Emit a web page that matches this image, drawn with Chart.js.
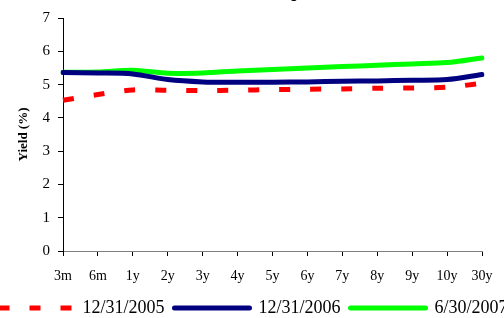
<!DOCTYPE html>
<html>
<head>
<meta charset="utf-8">
<script src="https://cdn.jsdelivr.net/npm/chart.js@4"></script>
<style>
html,body{margin:0;padding:0;background:#fff;overflow:hidden;}
#wrap{position:relative;width:504px;height:318px;overflow:hidden;background:#fff;}
#c{position:absolute;left:-17px;top:-22px;}
</style>
</head>
<body>
<div id="wrap"><canvas id="c" width="540" height="349"></canvas></div>
<script>
const categories = ['3m','6m','1y','2y','3y','4y','5y','6y','7y','8y','9y','10y','30y'];
const yield2005 = [4.53, 4.70, 4.84, 4.83, 4.82, 4.83, 4.85, 4.86, 4.87, 4.89, 4.90, 4.92, 5.04];
const yield2006 = [5.36, 5.35, 5.32, 5.15, 5.08, 5.07, 5.07, 5.08, 5.10, 5.11, 5.13, 5.15, 5.30];
const yield2007 = [5.37, 5.38, 5.43, 5.34, 5.35, 5.41, 5.45, 5.50, 5.54, 5.58, 5.62, 5.66, 5.80];
const seriesLabels = ['12/31/2005', '12/31/2006', '6/30/2007'];
const yTicks = [0, 1, 2, 3, 4, 5, 6, 7];
const chartTitle = 'Yield Curve Comparison';

const serif = "'Liberation Serif', 'Times New Roman', serif";

new Chart(document.getElementById('c'), {
  type: 'line',
  data: {
    labels: categories,
    datasets: [
      {label: seriesLabels[0], data: yield2005, borderColor: '#FF0000', backgroundColor: '#FF0000',
       borderWidth: 5, borderDash: [11, 20], borderCapStyle: 'butt', pointRadius: 0, tension: 0.3, fill: false},
      {label: seriesLabels[1], data: yield2006, borderColor: '#000080', backgroundColor: '#000080',
       borderWidth: 5, borderCapStyle: 'round', borderJoinStyle: 'round', pointRadius: 0, tension: 0.3, fill: false},
      {label: seriesLabels[2], data: yield2007, borderColor: '#00FF00', backgroundColor: '#00FF00',
       borderWidth: 5, borderCapStyle: 'round', borderJoinStyle: 'round', pointRadius: 0, tension: 0.3, fill: false}
    ]
  },
  options: {
    responsive: false,
    animation: false,
    devicePixelRatio: 1,
    layout: {padding: 0},
    plugins: {
      title: {display: true, text: chartTitle, color: '#000',
              font: {family: serif, size: 18, weight: 'bold'}, padding: {top: 4, bottom: 14.4}},
      legend: {position: 'bottom',
               labels: {usePointStyle: true, pointStyle: 'line', pointStyleWidth: 75,
                        font: {family: serif, size: 18}, color: '#000', padding: 10,
                        generateLabels: chart => {
                          const items = Chart.defaults.plugins.legend.labels.generateLabels(chart);
                          items.forEach(it => {
                            const ds = chart.data.datasets[it.datasetIndex];
                            it.strokeStyle = ds.borderColor;
                            it.fillStyle = ds.borderColor;
                            it.lineWidth = ds.borderWidth;
                            it.lineDash = ds.borderDash || [];
                            it.lineDashOffset = 0;
                            it.lineCap = ds.borderCapStyle;
                            it.pointStyle = 'line';
                          });
                          return items;
                        }}},
      tooltip: {enabled: false}
    },
    scales: {
      x: {
        offset: false,
        grid: {display: true, drawOnChartArea: false, drawTicks: true, tickLength: 5, color: '#000'},
        border: {display: true, color: '#808080', width: 1},
        ticks: {font: {family: serif, size: 14}, color: '#000', padding: 12, maxRotation: 0, autoSkip: false},
        afterFit: s => { s.height = 38; }
      },
      y: {
        min: 0, max: 7,
        afterBuildTicks: s => { s.ticks = yTicks.map(v => ({value: v})); },
        grid: {display: true, drawOnChartArea: false, drawTicks: true, tickLength: 5, color: '#000'},
        border: {display: true, color: '#000', width: 1},
        ticks: {font: {family: serif, size: 15}, color: '#000', padding: 8},
        title: {display: true, text: 'Yield (%)', color: '#000',
                font: {family: serif, size: 13, weight: 'bold'}, padding: {top: 33, bottom: 0}},
        afterFit: s => { s.width = 80; }
      },
      y2: {
        position: 'right', display: true,
        grid: {display: false}, border: {display: false}, ticks: {display: false},
        afterFit: s => { s.width = 41; }
      }
    }
  }
});
</script>
</body>
</html>
